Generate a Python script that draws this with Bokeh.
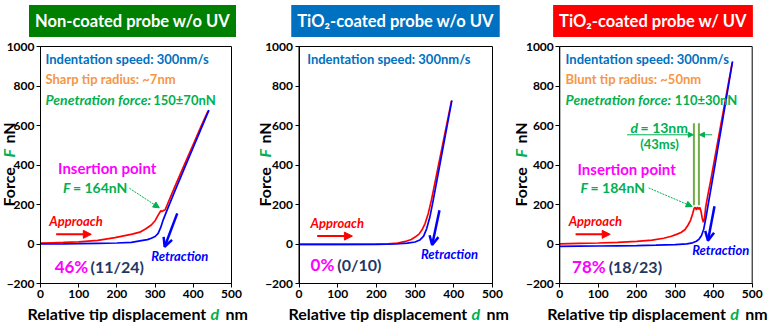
import math
from bokeh.plotting import figure
from bokeh.layouts import row
from bokeh.models import (Label, Arrow, NormalHead, OpenHead, FixedTicker, Range1d,
                          LinearAxis, BoxAnnotation)
from bokeh.embed import file_html
from bokeh.resources import INLINE

FONT = "Lato"

# ---------------- data ----------------
x_ticks = [0, 100, 200, 300, 400, 500]
y_ticks = [-200, 0, 200, 400, 600, 800, 1000]

titles = ["Non-coated probe w/o UV", "TiO\u2082-coated probe w/o UV", "TiO\u2082-coated probe w/ UV"]
title_colors = ["#008000", "#0070C0", "#FF0000"]

# Panel 1: non-coated probe w/o UV
nc_app_d = [0, 30, 60, 100, 150, 195, 240, 260, 275, 290, 300, 308, 315, 318, 322, 326, 350, 375, 400, 420, 439]
nc_app_f = [4, 6, 8, 11, 18, 32, 50, 60, 76, 96, 118, 146, 168, 165, 170, 172, 283, 394, 505, 594, 675]
nc_ret_d = [0, 60, 100, 150, 200, 238, 264, 280, 290, 300, 308, 315, 321, 330, 350, 375, 400, 420, 441]
nc_ret_f = [0, 1, 2, 3.5, 5, 8, 17, 22, 29, 38, 54, 85, 121, 165, 260, 375, 490, 582, 678]

# Panel 2: TiO2-coated probe w/o UV
t0_app_d = [0, 100, 200, 230, 255, 275, 290, 300, 310, 318, 326, 334, 342, 350, 360, 370, 380, 394]
t0_app_f = [-2, -2, -1, 1, 5, 13, 23, 35, 50, 72, 105, 155, 221, 298, 395, 492, 589, 725]
t0_ret_d = [0, 100, 200, 250, 280, 300, 312, 322, 330, 338, 346, 355, 365, 375, 385, 395]
t0_ret_f = [-2, -2, -2, 0, 4, 10, 20, 40, 78, 135, 213, 307, 412, 517, 622, 727]

# Panel 3: TiO2-coated probe w/ UV
uv_app_d = [0, 50, 100, 150, 200, 240, 270, 290, 305, 315, 325, 333, 340, 345, 349, 352, 355, 358, 361,
            364, 367, 370, 373, 376, 379, 385, 392, 400, 410, 420, 430, 448]
uv_app_f = [1, 3, 5, 8, 13, 20, 29, 39, 50, 58, 72, 95, 121, 152, 180, 186, 172, 187, 176,
            185, 165, 132, 110, 128, 185, 250, 320, 406, 513, 620, 726, 918]
uv_ret_d = [0, 50, 100, 150, 200, 250, 300, 330, 345, 355, 362, 368, 374, 380, 386, 392, 400, 410, 420, 435, 449]
uv_ret_f = [-12, -11, -10, -9, -8, -6, -3, 1, 6, 14, 25, 42, 75, 135, 205, 272, 362, 477, 591, 764, 925]

rates = ["46%", "0%", "78%"]
counts = ["(11/24)", "(0/10)", "(18/23)"]

RED = "#FF0000"
BLUE = "#0000FF"
GREEN = "#00B050"
LGREEN = "#70AD47"
MAG = "#FF00FF"
NAVY = "#1F3864"
SKY = "#0070C0"
ORANGE = "#F79646"

H = 322
TOP, BOT = 46, 283  # plot box top / bottom (px from top)


def make_fig(width, L, R):
    # frame covers the whole figure; the plot box [0,500]x[-200,1000] sits at L..R, TOP..BOT
    sx = 500.0 / (R - L)
    sy = 1200.0 / (BOT - TOP)
    xr = Range1d(-L * sx, 500 + (width - R) * sx)
    yr = Range1d(-200 - (H - BOT) * sy, 1000 + TOP * sy)
    p = figure(width=width, height=H, x_range=xr, y_range=yr, x_axis_location=None,
               y_axis_location=None, output_backend="svg", toolbar_location=None, min_border=0)
    p.outline_line_color = None
    p.grid.visible = False
    xa = LinearAxis(fixed_location=-200, bounds=(0, 500), ticker=FixedTicker(ticks=x_ticks))
    ya = LinearAxis(fixed_location=0, bounds=(-200, 1000), ticker=FixedTicker(ticks=y_ticks))
    ya.major_label_overrides = {-200: "\u2212200"}
    for ax in (xa, ya):
        ax.major_label_text_font = FONT
        ax.major_label_text_font_style = "bold"
        ax.major_label_text_font_size = "12px"
        ax.major_label_text_color = "black"
        ax.major_tick_in = 0
        ax.major_tick_out = 4
        ax.minor_tick_in = 0
        ax.minor_tick_out = 0
        ax.axis_line_color = "black"
        ax.major_tick_line_color = "black"
        ax.major_label_standoff = 2
    p.add_layout(xa, "below")
    p.add_layout(ya, "left")
    p.add_layout(BoxAnnotation(left=0, right=500, bottom=-200, top=1000, fill_color=None,
                               line_color="black", line_width=1, line_alpha=1))
    return p


def txt(p, x, y, s, color, size, style="bold", align="left", baseline="middle", units="data", angle=0.0):
    p.add_layout(Label(x=x, y=y, x_units=units, y_units=units, text=s, text_color=color,
                       text_font=FONT, text_font_size=f"{size}px", text_font_style=style,
                       text_align=align, text_baseline=baseline, angle=angle))


def frame_texts(p, i, tx, ylx, xlx):
    # title box (screen units: x from left, y from bottom of the figure)
    p.add_layout(Label(x=tx, y=H - 20.5, x_units="screen", y_units="screen", text=titles[i],
                       text_color="white", text_font=FONT, text_font_size="16.5px",
                       text_font_style="bold", text_align="center", text_baseline="middle",
                       background_fill_color=title_colors[i], background_fill_alpha=1.0,
                       padding=dict(left=6, right=6, top=6, bottom=6)))
    # y axis label (rotated)
    y0 = H - 206
    txt(p, ylx, y0, "Force", "black", 16, units="screen", angle=math.pi / 2)
    txt(p, ylx, y0 + 49, "F", GREEN, 16, style="bold italic", units="screen", angle=math.pi / 2)
    txt(p, ylx, y0 + 63, "nN", "black", 16, units="screen", angle=math.pi / 2)
    # x axis label
    yb = H - 313
    txt(p, xlx, yb, "Relative tip displacement", "black", 16, units="screen")
    txt(p, xlx + 183, yb, "d", GREEN, 16, style="bold italic", units="screen")
    txt(p, xlx + 198, yb, "nm", "black", 16, units="screen")


def arrows(p, app, ret):
    p.add_layout(Arrow(x_start=app[0], y_start=app[2], x_end=app[1], y_end=app[2],
                       line_color=RED, line_width=2,
                       end=NormalHead(size=8, fill_color=RED, line_color=RED)))
    p.add_layout(Arrow(x_start=ret[0], y_start=ret[1], x_end=ret[2], y_end=ret[3],
                       line_color=BLUE, line_width=2.5,
                       end=OpenHead(size=9, line_color=BLUE, line_width=2.5)))


# ---------------- panel 1 ----------------
p1 = make_fig(256, 40, 231)
p1.line(nc_app_d, nc_app_f, line_color=RED, line_width=1.7)
p1.line(nc_ret_d, nc_ret_f, line_color=BLUE, line_width=1.7)
frame_texts(p1, 0, 132, 8, 27)
txt(p1, 13, 937, "Indentation speed: 300nm/s", SKY, 13)
txt(p1, 13, 833, "Sharp tip radius: ~7nm", ORANGE, 13)
txt(p1, 13, 730, "Penetration force:", GREEN, 14, style="bold italic")
txt(p1, 295, 730, "150\u00b170nN", GREEN, 13)
txt(p1, 46, 383, "Insertion point", MAG, 15)
txt(p1, 59, 284, "F", GREEN, 14, style="bold italic")
txt(p1, 85, 284, "= 164nN", GREEN, 14)
p1.add_layout(Arrow(x_start=233, y_start=282, x_end=311, y_end=183, line_color=GREEN, line_width=1,
                    line_dash="2 1", end=NormalHead(size=6, fill_color=GREEN, line_color=GREEN)))
txt(p1, 23, 116, "Approach", RED, 13, style="bold italic")
txt(p1, 290, -60, "Retraction", BLUE, 13, style="bold italic")
arrows(p1, (41, 133, 49), (358, 155, 325, -14))
txt(p1, 37, -114, rates[0], MAG, 17)
txt(p1, 131, -114, counts[0], NAVY, 16)

# ---------------- panel 2 ----------------
p2 = make_fig(256, 42.5, 236)
p2.line(t0_app_d, t0_app_f, line_color=RED, line_width=1.7)
p2.line(t0_ret_d, t0_ret_f, line_color=BLUE, line_width=1.7)
frame_texts(p2, 1, 139, 8, 32)
txt(p2, 21, 937, "Indentation speed: 300nm/s", SKY, 13)
txt(p2, 30, 107, "Approach", RED, 13, style="bold italic")
txt(p2, 315, -50, "Retraction", BLUE, 13, style="bold italic")
arrows(p2, (47, 138, 40), (363, 171, 344, -5))
txt(p2, 30, -106, rates[1], MAG, 17)
txt(p2, 99, -106, counts[1], NAVY, 16)

# ---------------- panel 3 ----------------
p3 = make_fig(257, 47.3, 239.7)
p3.line(uv_app_d, uv_app_f, line_color=RED, line_width=1.7)
p3.line(uv_ret_d, uv_ret_f, line_color=BLUE, line_width=1.7)
frame_texts(p3, 2, 140.5, 8, 34.7)
txt(p3, 15, 937, "Indentation speed: 300nm/s", SKY, 13)
txt(p3, 15, 833, "Blunt tip radius: ~50nm", ORANGE, 13)
txt(p3, 15, 730, "Penetration force:", GREEN, 14, style="bold italic")
txt(p3, 299, 730, "110\u00b130nN", GREEN, 13)
txt(p3, 184, 591, "d", GREEN, 14, style="bold italic")
txt(p3, 210, 591, "= 13nm", GREEN, 14)
txt(p3, 259, 507, "(43ms)", GREEN, 13, align="center")
p3.segment(x0=[348.5, 361.5], y0=[196, 196], x1=[348.5, 361.5], y1=[611, 611],
           line_color=LGREEN, line_width=2)
p3.add_layout(Arrow(x_start=175, y_start=553, x_end=347, y_end=553, line_color=GREEN, line_width=1,
                    end=NormalHead(size=5, fill_color=GREEN, line_color=GREEN)))
p3.add_layout(Arrow(x_start=396, y_start=553, x_end=363, y_end=553, line_color=GREEN, line_width=1,
                    end=NormalHead(size=5, fill_color=GREEN, line_color=GREEN)))
txt(p3, 46, 381, "Insertion point", MAG, 15)
txt(p3, 54, 284, "F", GREEN, 14, style="bold italic")
txt(p3, 80, 284, "= 184nN", GREEN, 14)
p3.add_layout(Arrow(x_start=231, y_start=284, x_end=344, y_end=190, line_color=GREEN, line_width=1,
                    line_dash="2 1", end=NormalHead(size=6, fill_color=GREEN, line_color=GREEN)))
txt(p3, 23, 116, "Approach", RED, 13, style="bold italic")
txt(p3, 344, -30, "Retraction", BLUE, 13, style="bold italic")
arrows(p3, (41, 131, 49), (402, 191, 385, 17))
txt(p3, 32, -114, rates[2], MAG, 17)
txt(p3, 127, -114, counts[2], NAVY, 16)

layout = row(p1, p2, p3, spacing=0)
open("out.html", "w").write(file_html(layout, INLINE))
